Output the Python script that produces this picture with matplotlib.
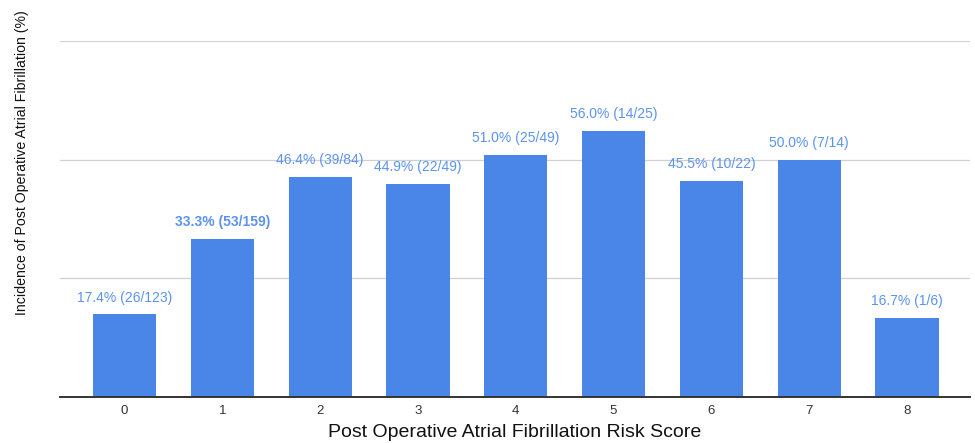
import matplotlib
matplotlib.use("Agg")
import matplotlib.pyplot as plt

# risk score categories and observed POAF incidence
scores = ["0", "1", "2", "3", "4", "5", "6", "7", "8"]
pct = [17.4, 33.3, 46.4, 44.9, 51.0, 56.0, 45.5, 50.0, 16.7]
events = [26, 53, 39, 22, 25, 14, 10, 7, 1]
totals = [123, 159, 84, 49, 49, 25, 22, 14, 6]

bar_col = "#4a86e8"
lab_col = "#5b93ee"

plt.rcParams["font.family"] = ["Liberation Sans", "DejaVu Sans"]

fig = plt.figure(figsize=(9.75, 4.43), dpi=100)
ax = fig.add_axes([0.0615, 0.1038, 0.933, 0.8036])

x = list(range(len(scores)))
bars = ax.bar(x, pct, width=0.645, color=bar_col, zorder=3)

for i, b in enumerate(bars):
    txt = f"{pct[i]:.1f}% ({events[i]}/{totals[i]})"
    ax.annotate(txt, (b.get_x() + b.get_width() / 2, b.get_height()),
                xytext=(0, 7), textcoords="offset points", ha="center", va="bottom",
                fontsize=10, color=lab_col,
                fontweight="bold" if i == 1 else "normal")

ax.set_xlim(-0.66, 8.64)
ax.set_ylim(0, 75)
ax.set_yticks([25, 50, 75])
ax.set_yticklabels([])
ax.set_xticks(x)
ax.set_xticklabels(scores, fontsize=9.5, color="#333333")
ax.tick_params(length=0, pad=6)
ax.grid(axis="y", color="#d0d0d0", linewidth=0.9, zorder=0)

for s in ["top", "right", "left"]:
    ax.spines[s].set_visible(False)
ax.spines["bottom"].set_color("#333333")
ax.spines["bottom"].set_linewidth(1.4)
ax.spines["bottom"].set_zorder(4)

ax.set_xlabel("Post Operative Atrial Fibrillation Risk Score", fontsize=14, labelpad=5, color="#111111")
fig.text(0.023, 0.634, "Incidence of Post Operative Atrial Fibrillation (%)", rotation=90,
         ha="center", va="center", fontsize=10.2, color="#111111")

fig.savefig("out.png", dpi=100)
